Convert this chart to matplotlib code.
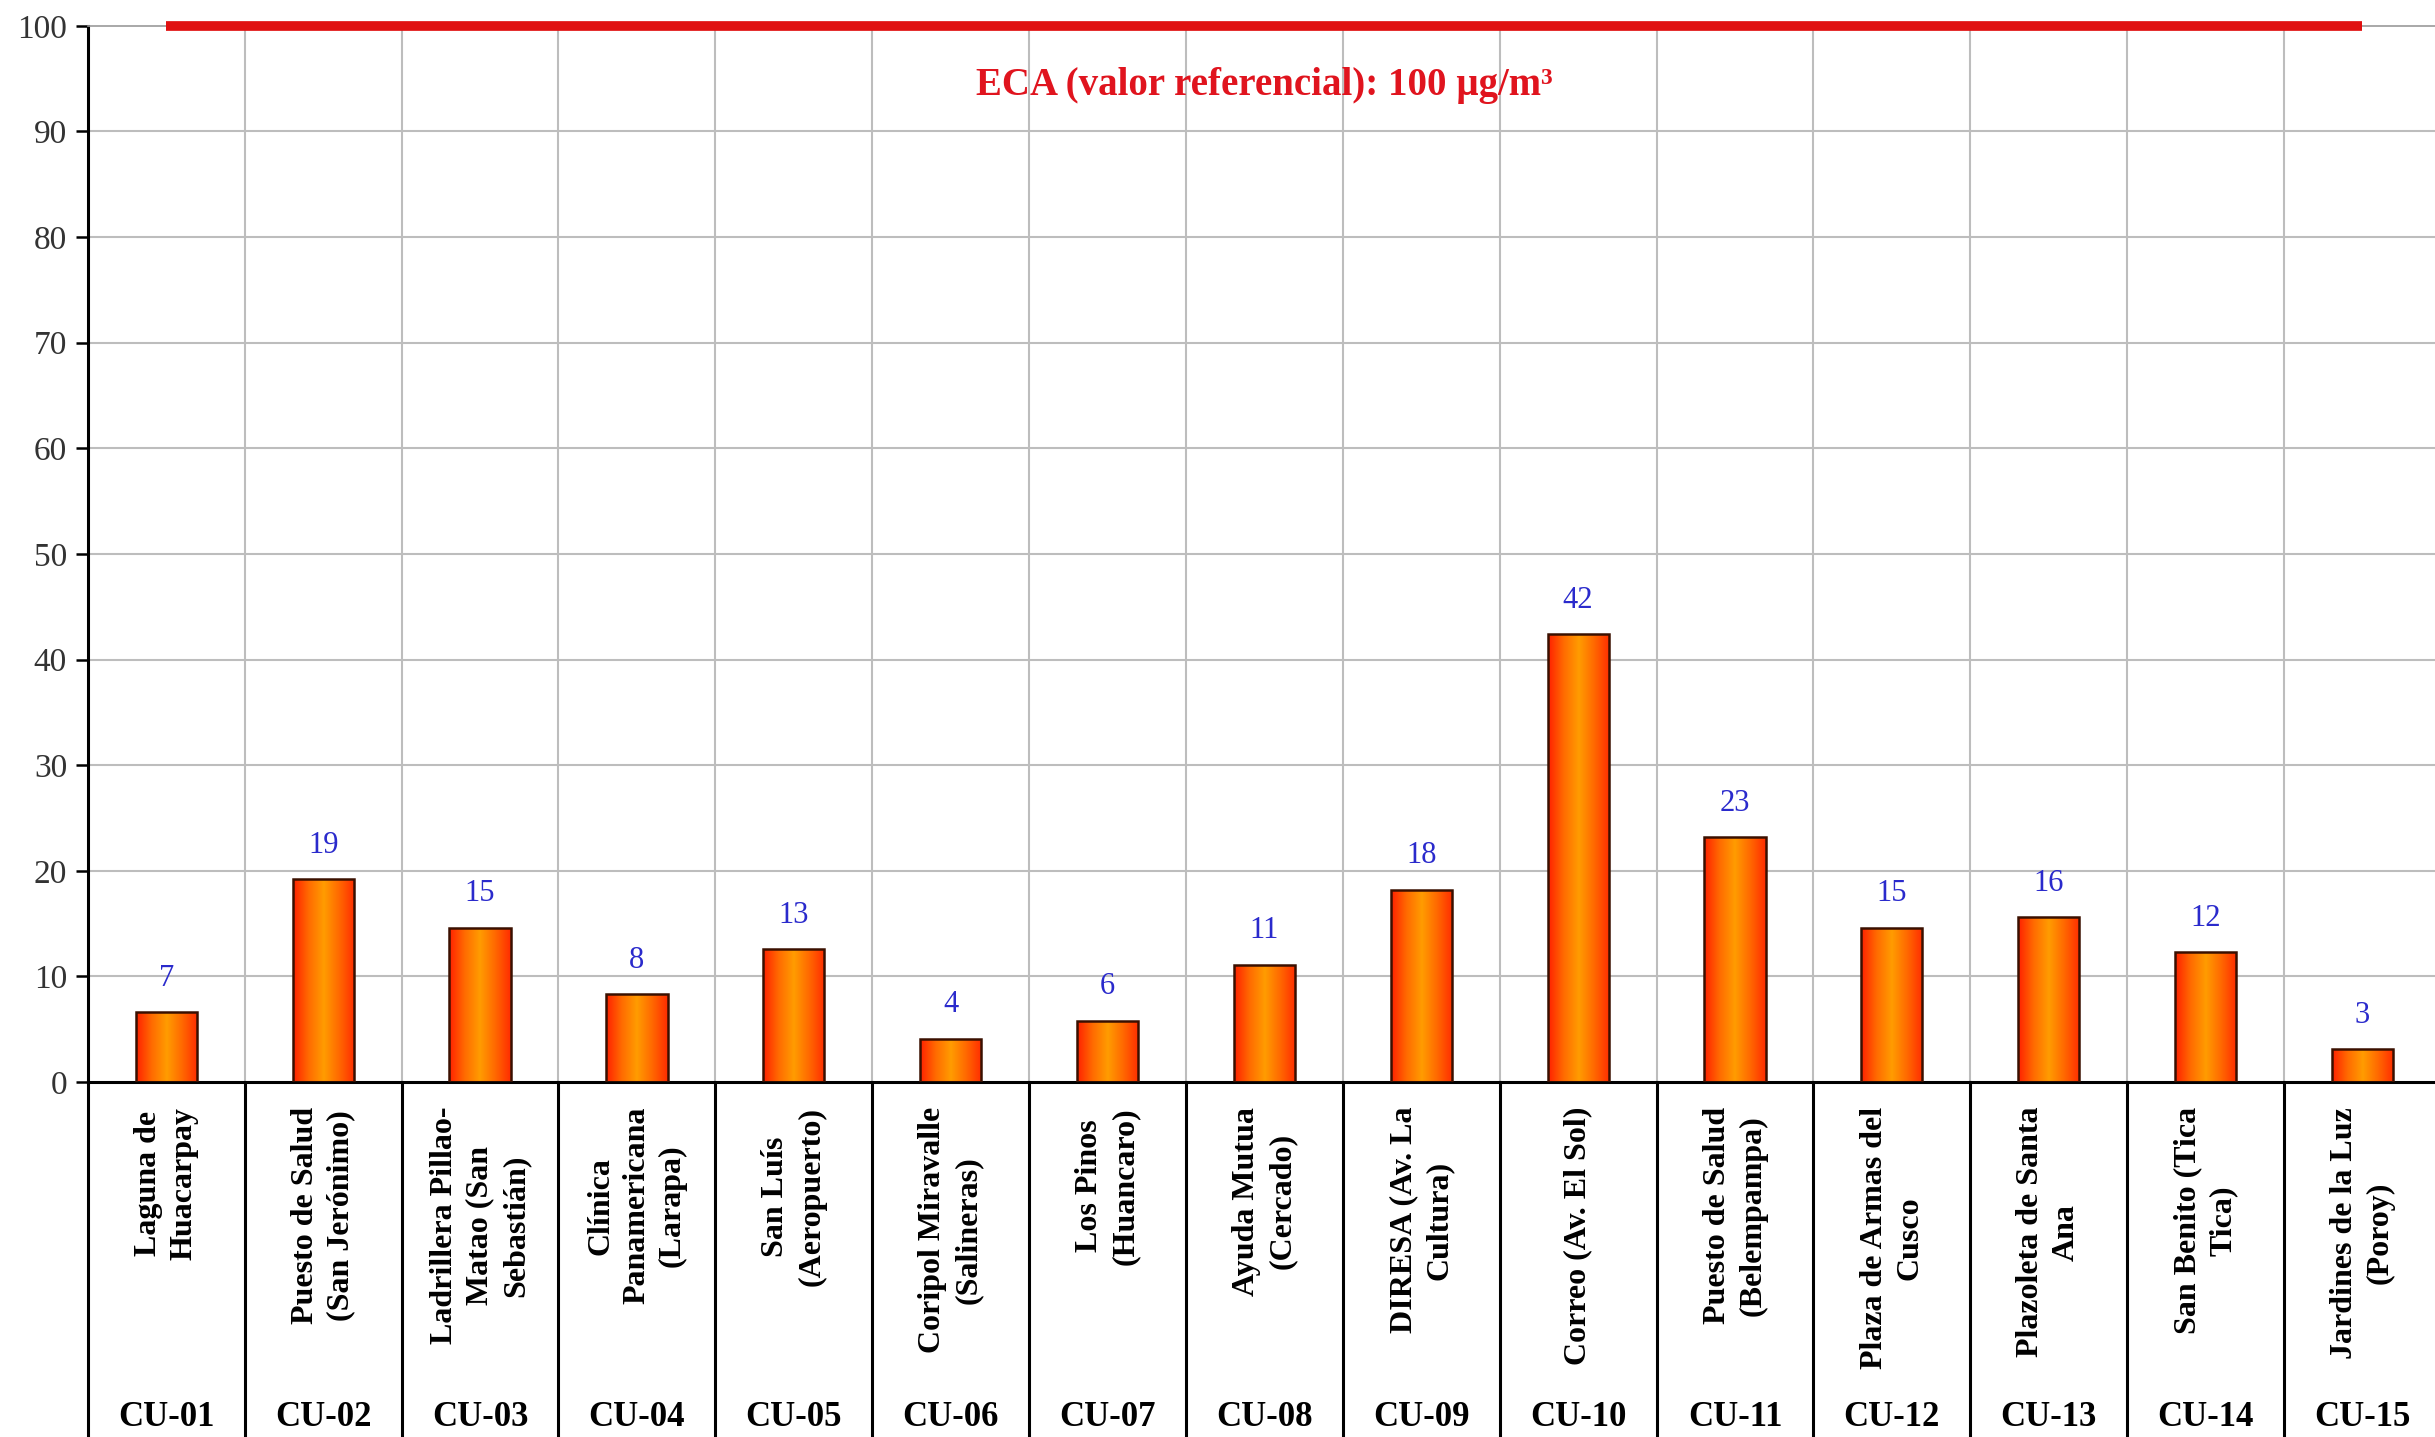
import numpy as np
import matplotlib
matplotlib.use("Agg")
import matplotlib.pyplot as plt
from matplotlib.colors import LinearSegmentedColormap

plt.rcParams['font.family'] = ['Liberation Serif', 'DejaVu Serif']

# Data
codes = ['CU-01', 'CU-02', 'CU-03', 'CU-04', 'CU-05', 'CU-06', 'CU-07', 'CU-08',
         'CU-09', 'CU-10', 'CU-11', 'CU-12', 'CU-13', 'CU-14', 'CU-15']
stations = ['Laguna de\nHuacarpay',
            'Puesto de Salud\n(San Jerónimo)',
            'Ladrillera Pillao-\nMatao (San\nSebastián)',
            'Clínica\nPanamericana\n(Larapa)',
            'San Luís\n(Aeropuerto)',
            'Coripol Miravalle\n(Salineras)',
            'Los Pinos\n(Huancaro)',
            'Ayuda Mutua\n(Cercado)',
            'DIRESA (Av. La\nCultura)',
            'Correo (Av. El Sol)',
            'Puesto de Salud\n(Belempampa)',
            'Plaza de Armas del\nCusco',
            'Plazoleta de Santa\nAna',
            'San Benito (Tica\nTica)',
            'Jardines de la Luz\n(Poroy)']
values = [6.6, 19.2, 14.6, 8.3, 12.6, 4.1, 5.8, 11.1, 18.2, 42.4, 23.2, 14.6, 15.6, 12.3, 3.1]
eca_value = 100
eca_label = 'ECA (valor referencial): 100 µg/m³'

fig = plt.figure(figsize=(24.35, 14.37), dpi=100)
ax = fig.add_axes([0.0361, 0.247, 0.9663, 0.735])
x = np.arange(len(codes))

# grid
for b in np.arange(0.5, len(codes) - 0.5, 1):
    ax.axvline(b, color='#bdbdbd', lw=1.5, zorder=0)
for yv in range(10, 100, 10):
    ax.axhline(yv, color='#bdbdbd', lw=1.5, zorder=0)

# bars with a horizontal red-orange gradient
cmap = LinearSegmentedColormap.from_list('bar', ['#ff2000', '#ff6a00', '#ff9c00', '#ff6800', '#ff2c00'])
grad = np.linspace(0, 1, 256).reshape(1, -1)
bars = ax.bar(x, values, width=0.39, color='none', edgecolor='#3a1000', lw=1.8, zorder=3)
for bar in bars:
    x0, y0 = bar.get_x(), bar.get_y()
    im = ax.imshow(grad, cmap=cmap, aspect='auto', zorder=2,
                   extent=[x0, x0 + bar.get_width(), y0, y0 + bar.get_height()])
    im.set_clip_path(bar)

for xi, v in zip(x, values):
    ax.annotate(f'{v:.0f}', (xi, v), xytext=(0, 14), textcoords='offset points',
                ha='center', va='bottom', fontsize=22, color='#2a2acc')

# ECA reference line
ax.plot([x[0], x[-1]], [eca_value, eca_value], color='#e01010', lw=7, zorder=4,
        solid_capstyle='butt', clip_on=False)
ax.text(7, 94.4, eca_label, ha='center', va='center', fontsize=28,
        fontweight='bold', color='#e0141e', zorder=5)

ax.set_xlim(-0.5, len(codes) - 0.5)
ax.set_ylim(0, 100)
ax.set_yticks(range(0, 101, 10))
ax.set_xticks([])
ax.tick_params(axis='y', length=9, width=1.8, pad=6, labelsize=24, labelcolor='#333333')
ax.spines['left'].set_linewidth(2.2)
ax.spines['bottom'].set_linewidth(2.2)
ax.spines['top'].set_color('#999999')
ax.spines['top'].set_linewidth(1.2)
ax.spines['right'].set_visible(False)

# category table below the axis
ax2 = fig.add_axes([0.0361, 0.0, 0.9663, 0.247])
ax2.set_xlim(-0.5, len(codes) - 0.5)
ax2.set_ylim(0, 1)
ax2.axis('off')
for b in np.arange(-0.5, len(codes), 1):
    ax2.plot([b, b], [0, 1], color='black', lw=2.2, clip_on=False)
for xi, name, code in zip(x, stations, codes):
    ax2.text(xi, 0.93, name, rotation=90, ha='center', va='top', multialignment='center',
             fontsize=23, fontweight='bold', linespacing=1.3)
    ax2.text(xi, 0.056, code, ha='center', va='center', fontsize=25, fontweight='bold')

fig.savefig('out.png', dpi=100, facecolor='white')
